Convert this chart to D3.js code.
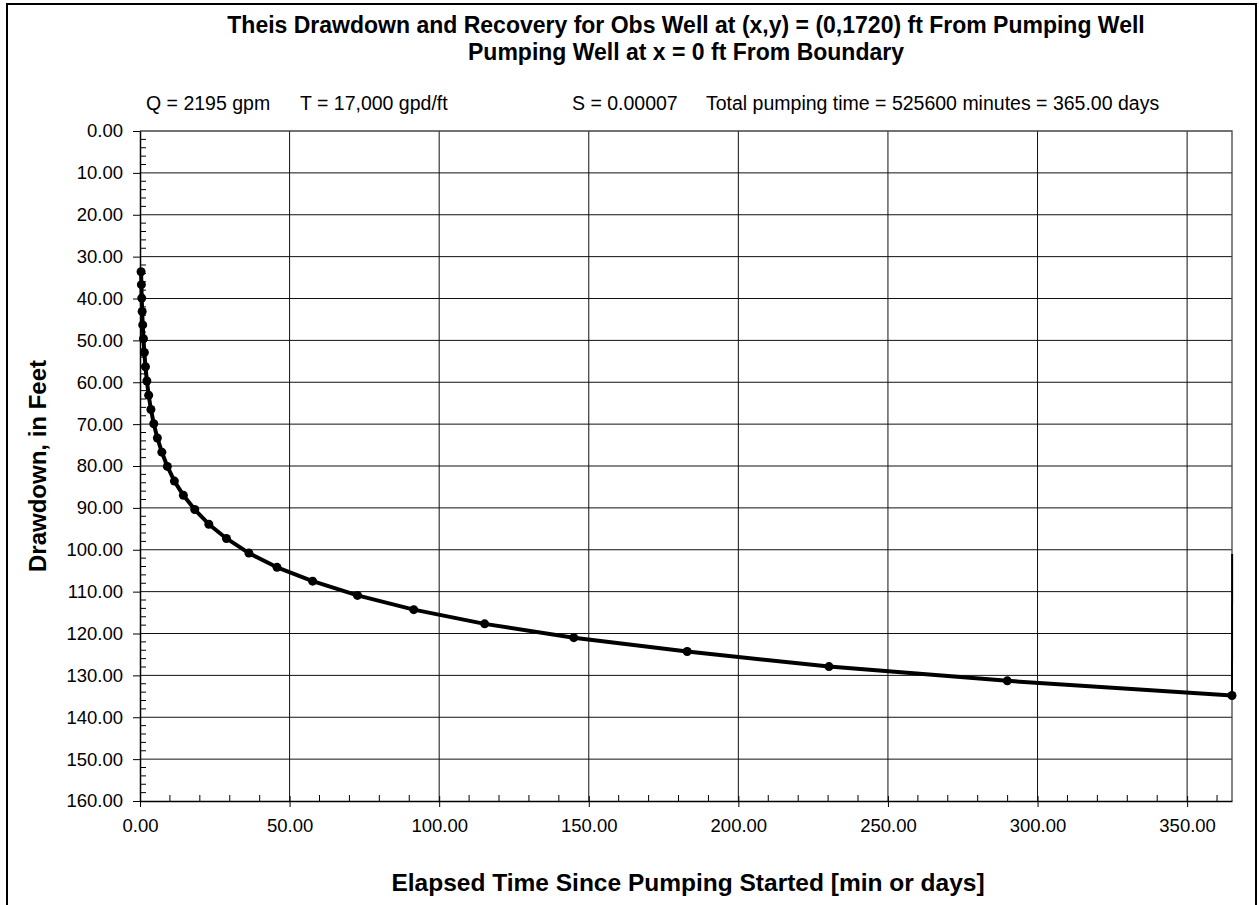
<!DOCTYPE html>
<html>
<head>
<meta charset="utf-8">
<script src="https://cdn.jsdelivr.net/npm/d3@7"></script>
<style>
  body { margin: 0; background: #fff; }
  svg { font-family: "Liberation Sans", Arial, sans-serif; }
</style>
</head>
<body>
<script>
// Chart size
const width = 1259;
const height = 905;

// Pumping period: elapsed time (days) and drawdown (ft)
var pumpTime = [0.36, 0.46, 0.58, 0.73, 0.91, 1.15, 1.45, 1.83, 2.3, 2.9, 3.65, 4.6,
  5.8, 7.3, 9.15, 11.5, 14.5, 18.3, 23.0, 28.9, 36.4, 45.8, 57.7, 72.7, 91.5,
  115.2, 145.0, 182.9, 230.3, 289.9, 365.0];
var pumpDrawdown = [33.6, 36.7, 39.9, 43.1, 46.3, 49.6, 52.9, 56.3, 59.7, 63.1, 66.5, 69.9,
  73.3, 76.7, 80.1, 83.6, 87.0, 90.4, 93.9, 97.3, 100.8, 104.2, 107.5, 110.9, 114.3,
  117.7, 121.0, 124.3, 127.9, 131.3, 134.8];

// Recovery right after pumping stops (runs up the right edge)
var recoveryTime = [365.0, 365.05];
var recoveryDrawdown = [134.8, 101.0];

// Axis ticks
var xTicks = [0, 50, 100, 150, 200, 250, 300, 350];
var yTicks = [0, 10, 20, 30, 40, 50, 60, 70, 80, 90, 100, 110, 120, 130, 140, 150, 160];

// Header texts
var titleLines = ["Theis Drawdown and Recovery for Obs Well at (x,y) = (0,1720) ft From Pumping Well",
  "Pumping Well at x = 0 ft From Boundary"];
var paramTexts = ["Q = 2195 gpm", "T = 17,000 gpd/ft", "S = 0.00007",
  "Total pumping time = 525600 minutes = 365.00 days"];
var paramX = [146, 300, 572, 706];

// Plot area
const plotLeft = 140, plotRight = 1232, plotTop = 131, plotBottom = 801;

var svg = d3.select("body")
    .append("svg")
    .attr("width", width)
    .attr("height", height);

// Outer frame
svg.append("rect")
    .attr("x", 7).attr("y", 4)
    .attr("width", 1249).attr("height", 920)
    .attr("fill", "none")
    .attr("stroke", "#000")
    .attr("stroke-width", 2);

var x_scale = d3.scaleLinear().domain([0, 365]).range([plotLeft, plotRight]);
var y_scale = d3.scaleLinear().domain([0, 160]).range([plotTop, plotBottom]);

// Grid lines
svg.append("g").selectAll("line")
    .data(xTicks.slice(1))
    .join("line")
    .attr("x1", d => x_scale(d)).attr("x2", d => x_scale(d))
    .attr("y1", plotTop).attr("y2", plotBottom)
    .attr("stroke", "#111").attr("stroke-width", 1);
svg.append("g").selectAll("line")
    .data(yTicks.slice(1, -1))
    .join("line")
    .attr("x1", plotLeft).attr("x2", plotRight)
    .attr("y1", d => y_scale(d)).attr("y2", d => y_scale(d))
    .attr("stroke", "#111").attr("stroke-width", 1);

// Plot border (top and right)
svg.append("path")
    .attr("d", `M${plotLeft},${plotTop}H${plotRight}V${plotBottom}`)
    .attr("fill", "none")
    .attr("stroke", "#444")
    .attr("stroke-width", 1.3);

// Minor ticks
var yMinor = d3.range(0, 161, 2).filter(d => d % 10 != 0);
var xMinor = d3.range(0, 366, 10).filter(d => d % 50 != 0);
svg.append("g").selectAll("line")
    .data(yMinor)
    .join("line")
    .attr("x1", plotLeft).attr("x2", plotLeft + 6)
    .attr("y1", d => y_scale(d)).attr("y2", d => y_scale(d))
    .attr("stroke", "#000");
svg.append("g").selectAll("line")
    .data(xMinor)
    .join("line")
    .attr("x1", d => x_scale(d)).attr("x2", d => x_scale(d))
    .attr("y1", plotBottom).attr("y2", plotBottom - 6)
    .attr("stroke", "#000");

// Axes
var y_axis = d3.axisLeft(y_scale)
    .tickValues(yTicks)
    .tickFormat(d3.format(".2f"))
    .tickSizeInner(7).tickSizeOuter(0)
    .tickPadding(10);
svg.append("g")
    .attr("transform", `translate(${plotLeft},0)`)
    .call(y_axis)
    .call(g => g.select(".domain").attr("stroke", "#000").attr("stroke-width", 1.5))
    .call(g => g.selectAll("text").attr("font-size", 18.5).attr("fill", "#000")
        .attr("font-family", "Liberation Sans, Arial, sans-serif"));

var x_axis = d3.axisBottom(x_scale)
    .tickValues(xTicks)
    .tickFormat(d3.format(".2f"))
    .tickSizeInner(6).tickSizeOuter(0)
    .tickPadding(12);
svg.append("g")
    .attr("transform", `translate(0,${plotBottom})`)
    .call(x_axis)
    .call(g => g.select(".domain").attr("stroke", "#000").attr("stroke-width", 1.5))
    .call(g => g.selectAll(".tick line").attr("y1", -5))
    .call(g => g.selectAll("text").attr("font-size", 18.5).attr("fill", "#000")
        .attr("font-family", "Liberation Sans, Arial, sans-serif"));

// Drawdown line and points
var line = d3.line()
    .x(d => x_scale(d[0]))
    .y(d => y_scale(d[1]));
var pumpData = pumpTime.map((t, i) => [t, pumpDrawdown[i]]);
var recData = recoveryTime.map((t, i) => [t, recoveryDrawdown[i]]);

svg.append("path")
    .datum(recData)
    .attr("d", line)
    .attr("fill", "none")
    .attr("stroke", "#000")
    .attr("stroke-width", 2);

svg.append("path")
    .datum(pumpData)
    .attr("d", line)
    .attr("fill", "none")
    .attr("stroke", "#000")
    .attr("stroke-width", 4)
    .attr("stroke-linejoin", "round");

svg.append("g").selectAll("circle")
    .data(pumpData)
    .join("circle")
    .attr("cx", d => x_scale(d[0]))
    .attr("cy", d => y_scale(d[1]))
    .attr("r", 4.5)
    .attr("fill", "#000");

// Titles
svg.append("g").selectAll("text")
    .data(titleLines)
    .join("text")
    .attr("x", 686)
    .attr("y", (d, i) => 33 + i * 27)
    .attr("text-anchor", "middle")
    .attr("font-size", 23)
    .attr("font-weight", "bold")
    .text(d => d);

svg.append("g").selectAll("text")
    .data(paramTexts)
    .join("text")
    .attr("x", (d, i) => paramX[i])
    .attr("y", 110)
    .attr("font-size", 19.5)
    .text(d => d);

// Axis titles
svg.append("text")
    .attr("x", 688)
    .attr("y", 891)
    .attr("text-anchor", "middle")
    .attr("font-size", 24.5)
    .attr("font-weight", "bold")
    .text("Elapsed Time Since Pumping Started [min or days]");

svg.append("text")
    .attr("transform", `translate(46,${(plotTop + plotBottom) / 2}) rotate(-90)`)
    .attr("text-anchor", "middle")
    .attr("font-size", 24)
    .attr("font-weight", "bold")
    .text("Drawdown, in Feet");
</script>
</body>
</html>
